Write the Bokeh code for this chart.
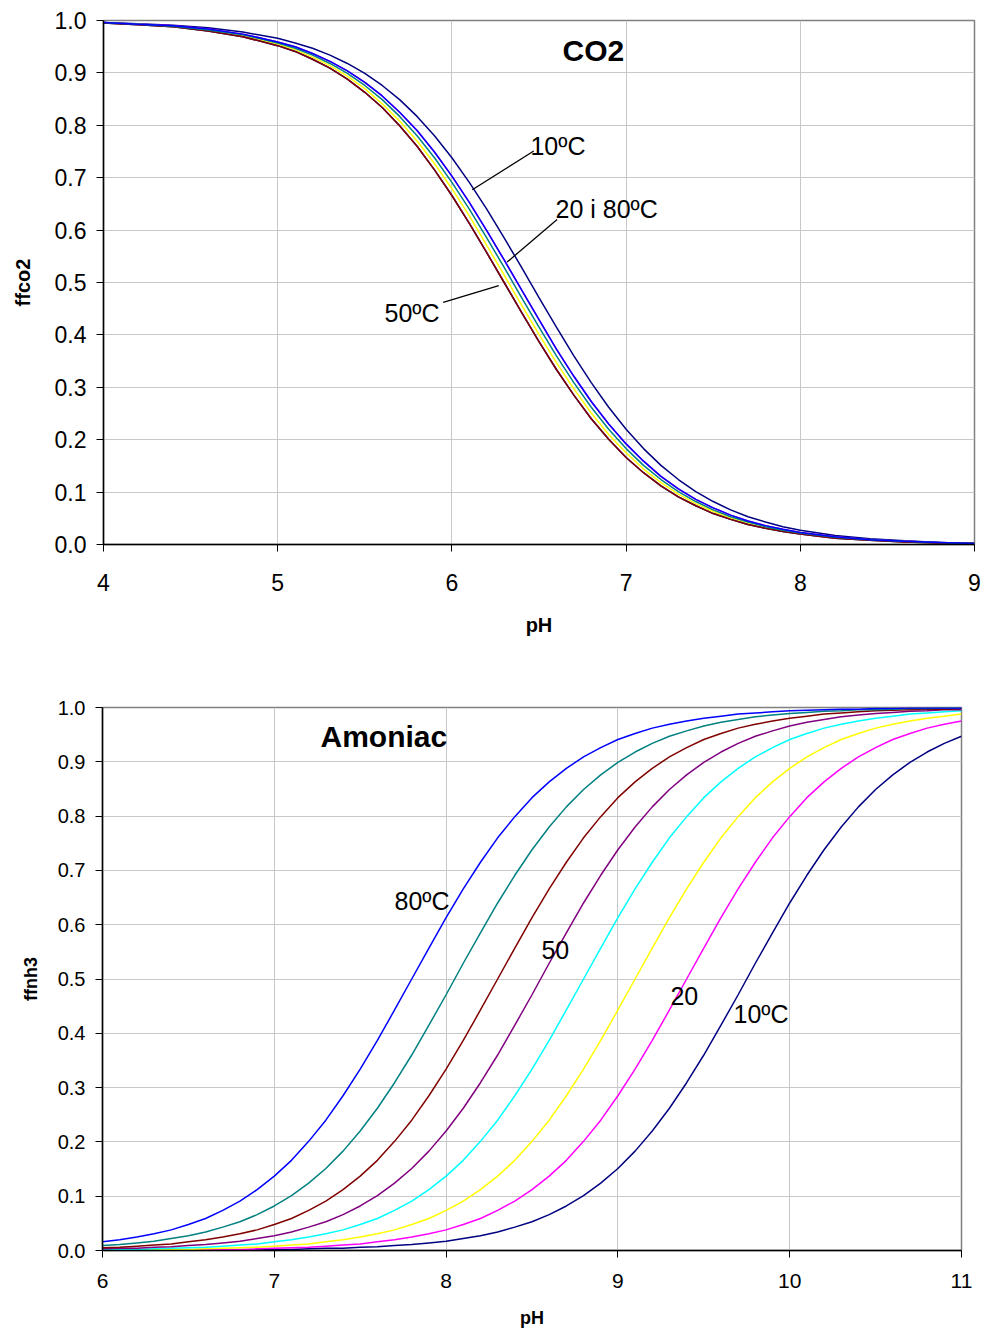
from bokeh.plotting import figure
from bokeh.models import Range1d, FixedTicker, PrintfTickFormatter, Label, Arrow
from bokeh.embed import file_html
from bokeh.resources import INLINE

# ---------------- data: CO2 (top) ----------------
ph_co2 = [4.0, 4.2, 4.4, 4.6, 4.8,
          5.0, 5.1, 5.2, 5.3, 5.4, 5.5, 5.6, 5.7, 5.8, 5.9,
          6.0, 6.1, 6.2, 6.3, 6.4, 6.5, 6.6, 6.7, 6.8, 6.9,
          7.0, 7.1, 7.2, 7.3, 7.4, 7.5, 7.6, 7.7, 7.8, 7.9,
          8.0, 8.2, 8.4, 8.6, 8.8, 9.0]
co2_10 = [0.996, 0.994, 0.991, 0.986, 0.978,
          0.966, 0.957, 0.947, 0.934, 0.918, 0.899, 0.876, 0.849, 0.817, 0.780,
          0.738, 0.691, 0.640, 0.585, 0.529, 0.471, 0.415, 0.360, 0.309, 0.262,
          0.220, 0.183, 0.151, 0.124, 0.101, 0.082, 0.066, 0.053, 0.043, 0.034,
          0.027, 0.017, 0.011, 0.007, 0.004, 0.003]
co2_20 = [0.996, 0.993, 0.990, 0.984, 0.974,
          0.959, 0.950, 0.937, 0.922, 0.904, 0.882, 0.856, 0.825, 0.790, 0.749,
          0.703, 0.653, 0.599, 0.543, 0.486, 0.429, 0.373, 0.321, 0.273, 0.230,
          0.192, 0.159, 0.130, 0.106, 0.086, 0.070, 0.056, 0.045, 0.036, 0.029,
          0.023, 0.015, 0.009, 0.006, 0.004, 0.002]
co2_30 = [0.995, 0.993, 0.988, 0.981, 0.971,
          0.955, 0.944, 0.930, 0.914, 0.894, 0.870, 0.841, 0.808, 0.770, 0.727,
          0.679, 0.627, 0.571, 0.514, 0.457, 0.401, 0.347, 0.297, 0.251, 0.210,
          0.175, 0.144, 0.118, 0.096, 0.078, 0.063, 0.050, 0.040, 0.032, 0.026,
          0.021, 0.013, 0.008, 0.005, 0.003, 0.002]
co2_40 = [0.995, 0.992, 0.988, 0.980, 0.969,
          0.952, 0.941, 0.926, 0.909, 0.888, 0.863, 0.834, 0.799, 0.760, 0.715,
          0.666, 0.613, 0.557, 0.500, 0.443, 0.387, 0.334, 0.285, 0.240, 0.201,
          0.166, 0.137, 0.112, 0.091, 0.074, 0.059, 0.048, 0.038, 0.031, 0.025,
          0.020, 0.012, 0.008, 0.005, 0.003, 0.002]
co2_50 = [0.995, 0.992, 0.988, 0.980, 0.969,
          0.952, 0.941, 0.926, 0.909, 0.888, 0.863, 0.834, 0.799, 0.760, 0.715,
          0.666, 0.613, 0.557, 0.500, 0.443, 0.387, 0.334, 0.285, 0.240, 0.201,
          0.166, 0.137, 0.112, 0.091, 0.074, 0.059, 0.048, 0.038, 0.031, 0.025,
          0.020, 0.012, 0.008, 0.005, 0.003, 0.002]
co2_60 = [0.995, 0.992, 0.988, 0.980, 0.969,
          0.952, 0.941, 0.926, 0.909, 0.888, 0.863, 0.834, 0.799, 0.760, 0.715,
          0.666, 0.613, 0.557, 0.500, 0.443, 0.387, 0.334, 0.285, 0.240, 0.201,
          0.166, 0.137, 0.112, 0.091, 0.074, 0.059, 0.048, 0.038, 0.031, 0.025,
          0.020, 0.012, 0.008, 0.005, 0.003, 0.002]
co2_70 = [0.996, 0.993, 0.989, 0.982, 0.973,
          0.957, 0.947, 0.934, 0.918, 0.899, 0.876, 0.849, 0.817, 0.780, 0.738,
          0.691, 0.640, 0.585, 0.529, 0.471, 0.415, 0.360, 0.309, 0.262, 0.220,
          0.183, 0.151, 0.124, 0.101, 0.082, 0.066, 0.053, 0.043, 0.034, 0.027,
          0.022, 0.014, 0.009, 0.006, 0.004, 0.002]
co2_80 = [0.996, 0.993, 0.990, 0.984, 0.974,
          0.959, 0.950, 0.937, 0.922, 0.904, 0.882, 0.856, 0.825, 0.790, 0.749,
          0.703, 0.653, 0.599, 0.543, 0.486, 0.429, 0.373, 0.321, 0.273, 0.230,
          0.192, 0.159, 0.130, 0.106, 0.086, 0.070, 0.056, 0.045, 0.036, 0.029,
          0.023, 0.015, 0.009, 0.006, 0.004, 0.002]

# ---------------- data: NH3 (bottom) ----------------
ph_nh3 = [6.0, 6.1, 6.2, 6.3, 6.4, 6.5, 6.6, 6.7, 6.8, 6.9,
          7.0, 7.1, 7.2, 7.3, 7.4, 7.5, 7.6, 7.7, 7.8, 7.9,
          8.0, 8.1, 8.2, 8.3, 8.4, 8.5, 8.6, 8.7, 8.8, 8.9,
          9.0, 9.1, 9.2, 9.3, 9.4, 9.5, 9.6, 9.7, 9.8, 9.9,
          10.0, 10.1, 10.2, 10.3, 10.4, 10.5, 10.6, 10.7, 10.8, 10.9,
          11.0]
nh3_10 = [0.000, 0.000, 0.000, 0.000, 0.000, 0.001, 0.001, 0.001, 0.001, 0.001,
          0.002, 0.002, 0.003, 0.004, 0.004, 0.006, 0.007, 0.009, 0.011, 0.014,
          0.017, 0.022, 0.027, 0.034, 0.043, 0.053, 0.066, 0.082, 0.101, 0.124,
          0.151, 0.183, 0.220, 0.262, 0.309, 0.360, 0.415, 0.471, 0.529, 0.585,
          0.640, 0.691, 0.738, 0.780, 0.817, 0.849, 0.876, 0.899, 0.918, 0.934,
          0.947]
nh3_20 = [0.000, 0.001, 0.001, 0.001, 0.001, 0.001, 0.002, 0.002, 0.002, 0.003,
          0.004, 0.005, 0.006, 0.008, 0.010, 0.012, 0.016, 0.020, 0.025, 0.031,
          0.038, 0.048, 0.059, 0.074, 0.091, 0.112, 0.137, 0.166, 0.201, 0.240,
          0.285, 0.334, 0.387, 0.443, 0.500, 0.557, 0.613, 0.666, 0.715, 0.760,
          0.799, 0.834, 0.863, 0.888, 0.909, 0.926, 0.941, 0.952, 0.962, 0.969,
          0.975]
nh3_30 = [0.001, 0.001, 0.001, 0.002, 0.002, 0.002, 0.003, 0.004, 0.005, 0.006,
          0.008, 0.010, 0.012, 0.016, 0.020, 0.025, 0.031, 0.038, 0.048, 0.059,
          0.074, 0.091, 0.112, 0.137, 0.166, 0.201, 0.240, 0.285, 0.334, 0.387,
          0.443, 0.500, 0.557, 0.613, 0.666, 0.715, 0.760, 0.799, 0.834, 0.863,
          0.888, 0.909, 0.926, 0.941, 0.952, 0.962, 0.969, 0.975, 0.980, 0.984,
          0.988]
nh3_40 = [0.002, 0.002, 0.002, 0.003, 0.004, 0.005, 0.006, 0.008, 0.010, 0.012,
          0.016, 0.020, 0.025, 0.031, 0.038, 0.048, 0.059, 0.074, 0.091, 0.112,
          0.137, 0.166, 0.201, 0.240, 0.285, 0.334, 0.387, 0.443, 0.500, 0.557,
          0.613, 0.666, 0.715, 0.760, 0.799, 0.834, 0.863, 0.888, 0.909, 0.926,
          0.941, 0.952, 0.962, 0.969, 0.975, 0.980, 0.984, 0.988, 0.990, 0.992,
          0.994]
nh3_50 = [0.003, 0.004, 0.004, 0.006, 0.007, 0.009, 0.011, 0.014, 0.017, 0.022,
          0.027, 0.034, 0.043, 0.053, 0.066, 0.082, 0.101, 0.124, 0.151, 0.183,
          0.220, 0.262, 0.309, 0.360, 0.415, 0.471, 0.529, 0.585, 0.640, 0.691,
          0.738, 0.780, 0.817, 0.849, 0.876, 0.899, 0.918, 0.934, 0.947, 0.957,
          0.966, 0.973, 0.978, 0.983, 0.986, 0.989, 0.991, 0.993, 0.994, 0.996,
          0.996]
nh3_60 = [0.005, 0.006, 0.008, 0.010, 0.012, 0.016, 0.020, 0.025, 0.031, 0.038,
          0.048, 0.059, 0.074, 0.091, 0.112, 0.137, 0.166, 0.201, 0.240, 0.285,
          0.334, 0.387, 0.443, 0.500, 0.557, 0.613, 0.666, 0.715, 0.760, 0.799,
          0.834, 0.863, 0.888, 0.909, 0.926, 0.941, 0.952, 0.962, 0.969, 0.975,
          0.980, 0.984, 0.988, 0.990, 0.992, 0.994, 0.995, 0.996, 0.997, 0.997,
          0.998]
nh3_70 = [0.009, 0.011, 0.014, 0.017, 0.022, 0.027, 0.034, 0.043, 0.053, 0.066,
          0.082, 0.101, 0.124, 0.151, 0.183, 0.220, 0.262, 0.309, 0.360, 0.415,
          0.471, 0.529, 0.585, 0.640, 0.691, 0.738, 0.780, 0.817, 0.849, 0.876,
          0.899, 0.918, 0.934, 0.947, 0.957, 0.966, 0.973, 0.978, 0.983, 0.986,
          0.989, 0.991, 0.993, 0.994, 0.996, 0.996, 0.997, 0.998, 0.998, 0.999,
          0.999]
nh3_80 = [0.016, 0.020, 0.025, 0.031, 0.038, 0.048, 0.059, 0.074, 0.091, 0.112,
          0.137, 0.166, 0.201, 0.240, 0.285, 0.334, 0.387, 0.443, 0.500, 0.557,
          0.613, 0.666, 0.715, 0.760, 0.799, 0.834, 0.863, 0.888, 0.909, 0.926,
          0.941, 0.952, 0.962, 0.969, 0.975, 0.980, 0.984, 0.988, 0.990, 0.992,
          0.994, 0.995, 0.996, 0.997, 0.997, 0.998, 0.998, 0.999, 0.999, 0.999,
          0.999]

temps = ["10", "20", "30", "40", "50", "60", "70", "80"]
colors = ["#000080", "#FF00FF", "#FFFF00", "#00FFFF", "#800080", "#800000", "#008080", "#0000FF"]
co2_series = [co2_10, co2_20, co2_30, co2_40, co2_50, co2_60, co2_70, co2_80]
nh3_series = [nh3_10, nh3_20, nh3_30, nh3_40, nh3_50, nh3_60, nh3_70, nh3_80]

x_ticks_co2 = [4, 5, 6, 7, 8, 9]
x_ticks_nh3 = [6, 7, 8, 9, 10, 11]
y_ticks = [0.0, 0.1, 0.2, 0.3, 0.4, 0.5, 0.6, 0.7, 0.8, 0.9, 1.0]

FONT = "Liberation Sans"


def make_fig(height, xr, borders, xticks, tick_px, xtick_px, lab_px, xlabel, ylabel,
             x_std, x_lab_std, y_lab_std):
    left, right, top, bottom = borders
    p = figure(width=983, height=height, x_range=Range1d(*xr), y_range=Range1d(0, 1),
               output_backend="svg", toolbar_location=None,
               min_border_left=left, min_border_right=right,
               min_border_top=top, min_border_bottom=bottom)
    p.background_fill_color = "white"
    p.border_fill_color = "white"
    p.outline_line_color = "#808080"
    p.outline_line_width = 1.5
    p.xaxis.ticker = FixedTicker(ticks=xticks)
    p.yaxis.ticker = FixedTicker(ticks=y_ticks)
    p.yaxis.formatter = PrintfTickFormatter(format="%.1f")
    p.xaxis.formatter = PrintfTickFormatter(format="%d")
    p.grid.grid_line_color = "#c8c8c8"
    p.grid.grid_line_width = 1
    for ax in p.axis:
        ax.axis_line_color = "black"
        ax.axis_line_width = 1.5
        ax.major_tick_line_color = "black"
        ax.major_tick_in = 0
        ax.major_tick_out = 7
        ax.minor_tick_line_color = None
        ax.major_label_text_font = FONT
        ax.major_label_text_color = "black"
        ax.axis_label_text_font = FONT
        ax.axis_label_text_font_style = "bold"
        ax.axis_label_text_color = "black"
        ax.axis_label_text_font_size = lab_px
    p.yaxis.major_label_text_font_size = tick_px
    p.xaxis.major_label_text_font_size = xtick_px
    p.yaxis.major_label_standoff = 10
    p.xaxis.major_label_standoff = x_std
    p.xaxis.axis_label = xlabel
    p.yaxis.axis_label = ylabel
    p.xaxis.axis_label_standoff = x_lab_std
    p.yaxis.axis_label_standoff = y_lab_std
    return p


# ---------------- top chart ----------------
p1 = make_fig(665, (4, 9), (103, 9, 20, 121), x_ticks_co2, "23px", "23px", "20px", "pH", "ffco2",
              22, 20, 18)
for ys, c in zip(co2_series, colors):
    p1.line(ph_co2, ys, line_color=c, line_width=1.5)

p1.add_layout(Label(x=6.635, y=0.942, text="CO2", text_font=FONT, text_font_size="30px",
                    text_font_style="bold", text_baseline="middle", text_color="black"))
for (tx, ty, txt) in [(6.451, 0.761, "10ºC"), (6.595, 0.641, "20 i 80ºC"), (5.613, 0.441, "50ºC")]:
    p1.add_layout(Label(x=tx, y=ty, text=txt, text_font=FONT, text_font_size="25px",
                        text_baseline="middle", text_color="black"))
for (x0, y0, x1, y1) in [(6.470, 0.751, 6.117, 0.677), (6.604, 0.620, 6.317, 0.539),
                         (5.950, 0.462, 6.269, 0.494)]:
    p1.add_layout(Arrow(end=None, x_start=x0, y_start=y0, x_end=x1, y_end=y1,
                        line_color="black", line_width=1.3))

# ---------------- bottom chart ----------------
p2 = make_fig(668, (6, 11), (102, 22, 42, 83), x_ticks_nh3, "20px", "21px", "18px", "pH", "ffnh3",
              16, 17, 14)
for ys, c in zip(nh3_series, colors):
    p2.line(ph_nh3, ys, line_color=c, line_width=1.5)

p2.add_layout(Label(x=7.269, y=0.947, text="Amoniac", text_font=FONT, text_font_size="30px",
                    text_font_style="bold", text_baseline="middle", text_color="black"))
for (tx, ty, txt) in [(7.700, 0.643, "80ºC"), (8.555, 0.554, "50"), (9.306, 0.468, "20"),
                      (9.673, 0.436, "10ºC")]:
    p2.add_layout(Label(x=tx, y=ty, text=txt, text_font=FONT, text_font_size="25px",
                        text_baseline="middle", text_color="black"))

# two independent roots, stacked vertically (keeps each frame's own borders)
open("out.html", "w").write(file_html([p1, p2], INLINE))
